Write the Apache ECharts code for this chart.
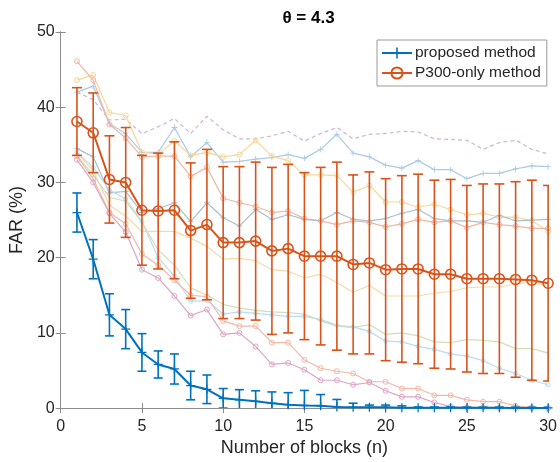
<!DOCTYPE html>
<html>
<head>
<meta charset="utf-8">
<style>
  html, body { margin: 0; padding: 0; background: #fff; }
  #chart { width: 560px; height: 462px; }
</style>
<script src="https://cdn.jsdelivr.net/npm/echarts@6/dist/echarts.min.js"></script>
</head>
<body>
<div id="chart"></div>
<script>
// Number of blocks (x categories)
const blocks = Array.from({ length: 30 }, (_, i) => i + 1);
const xTicks = [0, 5, 10, 15, 20, 25, 30];
const yTicks = [0, 10, 20, 30, 40, 50];

// Mean FAR (%) and error half-widths for the two methods
const proposedMean = [26.0, 19.8, 12.4, 10.5, 7.4, 5.8, 5.2, 3.0, 2.5, 1.3, 1.1, 0.9, 0.65, 0.45, 0.35, 0.3, 0.15, 0.1, 0.1, 0.1, 0.05, 0.05, 0.05, 0.05, 0.03, 0.03, 0.03, 0.02, 0.02, 0.02];
const proposedErr  = [2.6, 2.6, 2.8, 2.6, 2.5, 1.8, 2.0, 1.9, 1.9, 1.3, 1.35, 1.4, 1.5, 1.6, 2.0, 1.5, 1.0, 0.55, 0.3, 0.3, 0.25, 0.1, 0.1, 0.1, 0.1, 0.1, 0.1, 0.1, 0.1, 0.1];

const p300Mean = [38.1, 36.6, 30.4, 30.0, 26.3, 26.2, 26.3, 23.6, 24.4, 22.0, 22.0, 22.2, 20.9, 21.2, 20.2, 20.2, 20.2, 19.1, 19.3, 18.4, 18.5, 18.5, 17.8, 17.8, 17.2, 17.2, 17.2, 17.1, 17.0, 16.6];
const p300Err  = [4.5, 5.3, 5.8, 7.3, 7.3, 7.7, 9.1, 9.0, 10.0, 10.1, 10.1, 10.5, 11.1, 11.2, 11.1, 11.8, 12.5, 11.9, 12.1, 12.1, 12.4, 12.6, 12.5, 12.6, 12.4, 12.6, 12.6, 13.0, 13.3, 13.0];

// Individual subject curves (P300-only), drawn faintly behind the means
const subjDashed = [42.0, 41.0, 38.3, 38.4, 36.5, 37.4, 38.5, 36.5, 38.8, 37.0, 35.8, 35.8, 36.2, 36.8, 35.5, 36.5, 37.3, 35.8, 36.4, 36.5, 36.8, 36.7, 35.8, 35.7, 35.6, 34.4, 35.3, 35.6, 34.4, 33.8];
const subjBlueHi = [42.0, 42.8, 37.8, 36.5, 34.0, 34.0, 37.3, 33.4, 35.3, 32.7, 32.8, 33.1, 33.3, 33.7, 33.2, 34.4, 36.4, 33.9, 33.4, 32.3, 31.9, 32.9, 31.7, 31.7, 30.5, 31.2, 31.2, 31.8, 32.2, 32.1];
const subjYellowHi = [43.6, 44.3, 39.3, 38.9, 34.0, 33.8, 35.5, 33.6, 34.0, 33.4, 33.7, 35.6, 33.5, 32.9, 31.0, 31.0, 30.9, 28.7, 29.6, 27.4, 27.4, 26.7, 27.1, 26.4, 25.7, 25.9, 25.4, 25.4, 24.9, 23.5];
const subjSalmonHi = [46.1, 43.6, 37.7, 35.9, 33.4, 33.5, 33.5, 30.8, 32.0, 27.9, 27.3, 26.8, 26.0, 26.2, 25.2, 24.9, 24.4, 24.9, 24.7, 24.1, 24.5, 25.1, 24.7, 24.9, 24.0, 24.7, 24.4, 24.2, 23.9, 23.9];
const subjGrayBlue = [34.5, 33.4, 28.6, 28.8, 26.0, 26.5, 27.3, 24.8, 27.3, 25.3, 24.2, 26.4, 25.1, 25.7, 25.1, 24.9, 26.0, 25.1, 24.9, 25.2, 25.9, 26.4, 25.2, 24.9, 24.9, 24.7, 25.6, 24.9, 25.0, 25.1];
const subjYellowMid = [34.0, 31.5, 27.0, 25.5, 23.5, 23.5, 23.5, 22.6, 21.5, 19.8, 19.9, 19.6, 18.4, 18.2, 17.3, 17.8, 16.7, 15.4, 16.3, 14.9, 14.9, 14.9, 15.3, 15.5, 16.0, 16.1, 16.1, 16.5, 16.8, 16.2];
const subjCyan = [34.0, 32.0, 29.0, 27.8, 24.8, 20.0, 17.5, 14.2, 14.3, 12.5, 12.8, 12.6, 12.4, 12.2, 12.2, 11.8, 11.0, 10.8, 10.2, 8.9, 8.8, 8.2, 7.8, 7.2, 6.9, 6.3, 5.3, 4.6, 3.7, 3.1];
const subjGreen = [33.6, 31.0, 28.0, 27.5, 24.7, 21.0, 19.0, 16.0, 15.0, 13.8, 13.3, 13.0, 12.8, 12.7, 12.5, 11.6, 10.9, 10.7, 11.1, 9.8, 10.0, 9.6, 8.8, 8.7, 9.1, 9.0, 8.8, 7.9, 7.9, 7.3];
const subjSalmonLo = [33.5, 30.5, 26.0, 24.5, 20.5, 19.0, 17.0, 15.0, 14.8, 11.6, 10.9, 10.9, 8.7, 8.7, 6.4, 5.3, 4.9, 4.6, 3.5, 3.5, 2.6, 2.6, 1.7, 1.7, 1.1, 0.85, 0.85, 0.3, 0.1, 0.0];
const subjMauve = [33.0, 30.0, 25.9, 23.4, 18.4, 17.3, 14.9, 12.3, 13.1, 9.8, 10.0, 8.2, 5.8, 6.0, 5.1, 3.7, 3.7, 3.1, 3.4, 2.3, 1.5, 1.5, 0.75, 0.2, 0.1, 0.1, 0.05, 0.0, 0.0, 0.0];

const BLUE = '#0072BD';
const ORANGE = '#D95319';
const PLUS = 'path://M4.3,0 H5.7 V10 H4.3 Z M0,4.3 H10 V5.7 H0 Z';
const FONT = '"Liberation Sans", Arial, Helvetica, sans-serif';

function pairs(values) {
  return blocks.map((b, i) => [b, values[i]]);
}

function subject(values, color, symbol, size, dashed) {
  return {
    type: 'line',
    data: pairs(values),
    silent: true,
    z: 1,
    symbol: symbol || 'none',
    symbolSize: size || 5,
    showSymbol: !!symbol,
    lineStyle: { color: color, width: 1.2, type: dashed ? [4, 3] : 'solid' },
    itemStyle: symbol === 'circle'
      ? { color: 'rgba(255,255,255,0)', borderColor: color, borderWidth: 1 }
      : { color: color },
    emphasis: { disabled: true },
    animation: false
  };
}

function errorBars(means, errs, color, capHalf, z) {
  return {
    type: 'custom',
    silent: true,
    clip: true,
    z: z,
    animation: false,
    data: blocks.map((b, i) => [b, means[i] - errs[i], means[i] + errs[i]]),
    encode: { x: 0, y: [1, 2] },
    renderItem: function (params, api) {
      const lo = api.coord([api.value(0), api.value(1)]);
      const hi = api.coord([api.value(0), api.value(2)]);
      const style = { stroke: color, lineWidth: 1.6, fill: null };
      return {
        type: 'group',
        children: [
          { type: 'line', shape: { x1: lo[0], y1: lo[1], x2: hi[0], y2: hi[1] }, style: style },
          { type: 'line', shape: { x1: hi[0] - capHalf, y1: hi[1], x2: hi[0] + capHalf, y2: hi[1] }, style: style },
          { type: 'line', shape: { x1: lo[0] - capHalf, y1: lo[1], x2: lo[0] + capHalf, y2: lo[1] }, style: style }
        ]
      };
    }
  };
}

const axisColor = '#8c8c8c';
const labelStyle = { color: '#262626', fontSize: 16, fontFamily: FONT };

const chart = echarts.init(document.getElementById('chart'), null, { renderer: 'canvas' });

chart.setOption({
  animation: false,
  backgroundColor: '#fff',
  title: {
    text: 'θ = 4.3',
    left: 303.5,
    textAlign: 'center',
    top: 5,
    textStyle: { fontSize: 17, fontWeight: 'bold', color: '#000', fontFamily: FONT }
  },
  grid: { left: 56, right: 9, top: 32, bottom: 53, containLabel: false },
  legend: {
    data: ['proposed method', 'P300-only method'],
    orient: 'vertical',
    left: 377,
    top: 40,
    padding: [5, 6, 5, 4],
    itemGap: 4,
    itemWidth: 30,
    itemHeight: 14,
    backgroundColor: '#fff',
    borderColor: '#9a9a9a',
    borderWidth: 1,
    selectedMode: false,
    textStyle: { fontSize: 15.5, color: '#262626', fontFamily: FONT, padding: [0, 0, 0, -2] }
  },
  xAxis: [
    {
      type: 'value', min: xTicks[0], max: xTicks[xTicks.length - 1], interval: 5,
      name: 'Number of blocks (n)', nameLocation: 'middle', nameGap: 28,
      nameTextStyle: { fontSize: 18, color: '#262626', fontFamily: FONT },
      axisLine: { lineStyle: { color: axisColor, width: 1 } },
      axisTick: { inside: true, length: 5, lineStyle: { color: axisColor } },
      axisLabel: Object.assign({ margin: 10 }, labelStyle),
      splitLine: { show: false }
    },
    {
      type: 'value', position: 'top', min: 0, max: 30, interval: 5,
      axisLine: { show: true, lineStyle: { color: axisColor, width: 1 } },
      axisTick: { inside: true, length: 5, lineStyle: { color: axisColor } },
      axisLabel: { show: false },
      splitLine: { show: false }
    }
  ],
  yAxis: [
    {
      type: 'value', min: yTicks[0], max: yTicks[yTicks.length - 1], interval: 10,
      name: 'FAR (%)', nameLocation: 'middle', nameGap: 28,
      nameTextStyle: { fontSize: 18, color: '#262626', fontFamily: FONT },
      axisLine: { show: true, lineStyle: { color: axisColor, width: 1 } },
      axisTick: { show: true, inside: true, length: 5, lineStyle: { color: axisColor } },
      axisLabel: Object.assign({ margin: 6 }, labelStyle),
      splitLine: { show: false }
    },
    {
      type: 'value', position: 'right', min: 0, max: 50, interval: 10,
      axisLine: { show: true, lineStyle: { color: axisColor, width: 1 } },
      axisTick: { show: true, inside: true, length: 5, lineStyle: { color: axisColor } },
      axisLabel: { show: false },
      splitLine: { show: false }
    }
  ],
  series: [
    subject(subjDashed, '#cfb3d6', null, 0, true),
    subject(subjBlueHi, '#a9cbe6', PLUS, 6),
    subject(subjYellowHi, '#f6d79a', 'circle', 5),
    subject(subjSalmonHi, '#efb7a3', 'circle', 5),
    subject(subjGrayBlue, '#a9bfd0', PLUS, 6),
    subject(subjYellowMid, '#f7d9a6', null),
    subject(subjCyan, '#b8dcf2', 'circle', 4),
    subject(subjGreen, '#cfe0b6', null),
    subject(subjSalmonLo, '#f0b9a6', 'circle', 5),
    subject(subjMauve, '#dba6c6', 'circle', 5),

    errorBars(proposedMean, proposedErr, BLUE, 4.5, 5),
    {
      name: 'proposed method',
      type: 'line',
      z: 6,
      data: pairs(proposedMean),
      symbol: PLUS,
      symbolSize: 9,
      lineStyle: { color: BLUE, width: 2 },
      itemStyle: { color: BLUE },
      emphasis: { disabled: true }
    },
    errorBars(p300Mean, p300Err, ORANGE, 5, 7),
    {
      name: 'P300-only method',
      type: 'line',
      z: 8,
      data: pairs(p300Mean),
      symbol: 'circle',
      symbolSize: 10,
      lineStyle: { color: ORANGE, width: 2 },
      itemStyle: { color: 'rgba(255,255,255,0)', borderColor: ORANGE, borderWidth: 1.6 },
      emphasis: { disabled: true }
    }
  ]
});
</script>
</body>
</html>
